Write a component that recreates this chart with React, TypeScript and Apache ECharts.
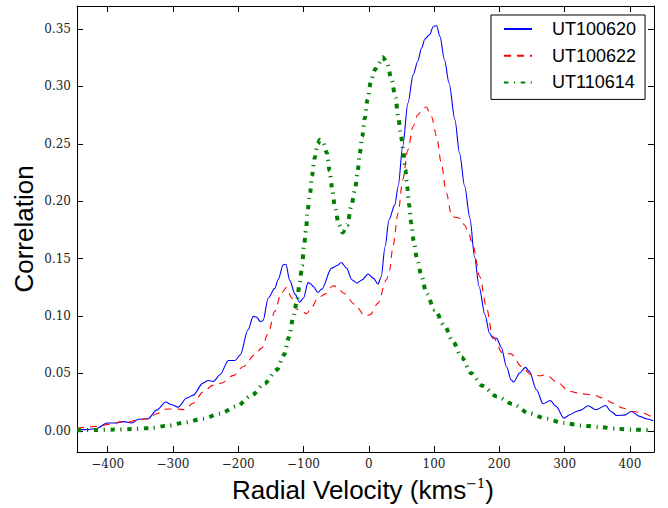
import React, { useEffect, useRef } from "react";
import * as echarts from "echarts";

// ---- Data ----
const seriesNames = ["UT100620", "UT100622", "UT110614"];

const blueV = [-447, -432, -417, -401, -386, -376, -363, -353, -338, -325, -311, -302, -292, -279, -269, -254, -246, -238, -228, -215, -205, -197, -185, -177, -172, -166, -162, -154, -144, -139, -131, -127, -121, -113, -106, -100, -93, -89, -85, -78, -72, -57, -49, -42, -34, -26, -18, -10, -1, 7, 14, 19, 25, 31, 40, 45, 52, 60, 68, 75, 81, 86, 93, 99, 104, 109, 116, 123, 132, 139, 147, 155, 162, 169, 178, 185, 190, 196, 203, 211, 218, 222, 231, 240, 246, 257, 267, 278, 287, 299, 308, 318, 325, 336, 348, 363, 371, 380, 392, 402, 415, 425, 436];
const blueC = [0.001, 0.001, 0.002, 0.0067, 0.0067, 0.008, 0.0067, 0.01, 0.0105, 0.018, 0.025, 0.0226, 0.0206, 0.0285, 0.031, 0.0415, 0.0438, 0.043, 0.0488, 0.0612, 0.0612, 0.066, 0.088, 0.0996, 0.099, 0.095, 0.096, 0.1156, 0.124, 0.1315, 0.1446, 0.145, 0.131, 0.119, 0.112, 0.1156, 0.129, 0.128, 0.1257, 0.1205, 0.1234, 0.1417, 0.1437, 0.1466, 0.1417, 0.1315, 0.1286, 0.1315, 0.1365, 0.133, 0.1278, 0.134, 0.1605, 0.1838, 0.197, 0.2128, 0.2477, 0.2854, 0.31, 0.3217, 0.3334, 0.3412, 0.345, 0.3522, 0.3528, 0.3435, 0.3232, 0.3029, 0.2709, 0.2419, 0.2128, 0.185, 0.1518, 0.1257, 0.101, 0.0851, 0.0807, 0.0805, 0.0728, 0.056, 0.0444, 0.0424, 0.0502, 0.0552, 0.0517, 0.0357, 0.0235, 0.0264, 0.0212, 0.011, 0.0139, 0.0168, 0.018, 0.0218, 0.0183, 0.022, 0.0168, 0.0133, 0.0136, 0.0168, 0.0125, 0.0105, 0.0087];

const redV = [-447, -417, -396, -378, -370, -353, -338, -325, -310, -294, -282, -269, -254, -239, -226, -208, -192, -175, -164, -154, -144, -134, -126, -118, -111, -103, -95, -88, -78, -67, -55, -49, -39, -21, -6, 2, 14, 27, 32, 37, 45, 52, 60, 68, 75, 83, 88, 96, 104, 111, 119, 127, 133, 140, 147, 153, 160, 170, 180, 190, 205, 218, 234, 249, 262, 272, 287, 308, 326, 343, 359, 374, 389, 405, 420, 436];
const redC = [0.0023, 0.0038, 0.0058, 0.008, 0.0075, 0.0096, 0.0105, 0.0148, 0.0189, 0.019, 0.0183, 0.024, 0.0337, 0.0395, 0.0415, 0.048, 0.056, 0.066, 0.072, 0.085, 0.104, 0.12, 0.1248, 0.1156, 0.106, 0.104, 0.1019, 0.107, 0.1156, 0.119, 0.1263, 0.1257, 0.12, 0.11, 0.1, 0.101, 0.111, 0.1315, 0.14, 0.1605, 0.1896, 0.2186, 0.2448, 0.265, 0.2753, 0.28, 0.282, 0.2738, 0.2564, 0.2332, 0.207, 0.187, 0.186, 0.185, 0.179, 0.172, 0.1605, 0.1344, 0.1083, 0.0821, 0.0677, 0.067, 0.056, 0.0488, 0.0479, 0.0488, 0.043, 0.0342, 0.0322, 0.0314, 0.0285, 0.0241, 0.0198, 0.0168, 0.0154, 0.011];

const greenV = [-447, -419, -391, -363, -335, -308, -282, -254, -228, -203, -180, -160, -141, -130, -122, -116, -110, -106, -102, -99.5, -96, -94, -90, -87, -83, -78, -75, -70, -64, -60, -56, -52, -46, -40, -33, -27, -21, -17, -14, -10, -6, -2, 3, 9, 14, 21, 28, 35, 41, 45, 49, 53, 56, 59, 62, 65, 69, 74, 81, 88, 101, 116, 129, 142, 157, 174, 196, 221, 245, 272, 298, 326, 353, 380, 407, 436];
const greenC = [0.0005, 0.0006, 0.001, 0.0015, 0.0023, 0.0044, 0.0072, 0.0105, 0.0148, 0.0212, 0.0305, 0.041, 0.053, 0.066, 0.0816, 0.098, 0.1126, 0.1286, 0.144, 0.16, 0.175, 0.191, 0.2064, 0.222, 0.2375, 0.25, 0.2535, 0.2506, 0.242, 0.2265, 0.211, 0.195, 0.18, 0.1727, 0.179, 0.195, 0.21, 0.2256, 0.241, 0.2564, 0.2724, 0.2883, 0.3034, 0.314, 0.3188, 0.3255, 0.321, 0.3055, 0.29, 0.274, 0.2584, 0.243, 0.2273, 0.212, 0.1963, 0.181, 0.165, 0.1496, 0.1344, 0.12, 0.1054, 0.0915, 0.0778, 0.0642, 0.0502, 0.0392, 0.0299, 0.0232, 0.0154, 0.0105, 0.0067, 0.0046, 0.0032, 0.0017, 0.0009, 0.0003];

const xMin = -447;
const xMax = 437;
const yMin = -0.0185;
const yMax = 0.37;
const xStep = 100;
const yStep = 0.05;

const pairs = (v: number[], c: number[]) => v.map((x, i) => [x, c[i]]);

export default function App() {
  const ref = useRef<HTMLDivElement>(null);

  useEffect(() => {
    if (!ref.current) return;
    const chart = echarts.init(ref.current, undefined, { renderer: "svg" });

    const tickFont = { fontFamily: "DejaVu Serif", fontSize: 12, color: "#222" };
    const isMult = (v: number, s: number) => Math.abs(v / s - Math.round(v / s)) < 1e-6;
    const xFmt = (v: number) => (isMult(v, xStep) ? (v < 0 ? "\u2212" + Math.abs(v) : String(v)) : "");
    const yFmt = (v: number) => (isMult(v, yStep) ? (Math.abs(v) < 1e-9 ? "0.00" : v.toFixed(2)) : "");

    const axisCommon = {
      type: "value" as const,
      splitLine: { show: false },
      axisLine: { show: true, onZero: false, lineStyle: { color: "#000", width: 1 } },
      axisTick: { show: true, inside: true, length: 6, lineStyle: { color: "#000", width: 1 } },
    };

    const xAx = (pos: "bottom" | "top", labels: boolean) => ({
      ...axisCommon,
      position: pos,
      min: xMin,
      max: xMax,
      splitNumber: 9,
      minInterval: xStep,
      maxInterval: xStep,
      axisLabel: { show: labels, formatter: xFmt, margin: 6, ...tickFont },
    });
    const yAx = (pos: "left" | "right", labels: boolean) => ({
      ...axisCommon,
      position: pos,
      min: yMin,
      max: yMax,
      splitNumber: 8,
      minInterval: yStep,
      maxInterval: yStep,
      axisLabel: { show: labels, formatter: yFmt, margin: 6, ...tickFont },
    });

    chart.setOption({
      animation: false,
      backgroundColor: "#fff",
      grid: { left: 77, right: 14, top: 6, bottom: 56, containLabel: false },
      xAxis: [xAx("bottom", true), xAx("top", false)],
      yAxis: [yAx("left", true), yAx("right", false)],
      legend: {
        data: seriesNames,
        orient: "vertical",
        left: 491,
        top: 15,
        padding: [4, 9, 7, 12],
        itemWidth: 28,
        itemHeight: 20,
        itemGap: 6.7,
        backgroundColor: "#fff",
        borderColor: "#000",
        borderWidth: 1,
        borderRadius: 0,
        itemStyle: { opacity: 0 },
        textStyle: {
          fontFamily: "Liberation Sans",
          fontSize: 18,
          color: "#000",
          lineHeight: 20,
          padding: [0, 0, 0, 15],
        },
      },
      graphic: [
        {
          type: "text",
          x: 24,
          y: 229,
          rotation: Math.PI / 2,
          style: {
            text: "Correlation",
            fontFamily: "Liberation Sans",
            fontSize: 26,
            fill: "#000",
            align: "center",
            verticalAlign: "middle",
          },
        },
        {
          type: "text",
          x: 363,
          y: 490,
          style: {
            text: "Radial Velocity (kms{sup|\u22121})",
            fontFamily: "Liberation Sans",
            fontSize: 26,
            fill: "#000",
            align: "center",
            verticalAlign: "middle",
            rich: {
              sup: {
                fontFamily: "DejaVu Serif",
                fontSize: 13,
                fill: "#000",
                verticalAlign: "top",
              },
            },
          },
        },
      ],
      series: [
        {
          name: seriesNames[0],
          type: "line",
          data: pairs(blueV, blueC),
          showSymbol: false,
          symbol: "none",
          smooth: 0.3,
          smoothMonotone: "x",
          lineStyle: { color: "#0000ff", width: 1.1 },
          itemStyle: { color: "#0000ff" },
          z: 3,
        },
        {
          name: seriesNames[1],
          type: "line",
          data: pairs(redV, redC),
          showSymbol: false,
          symbol: "none",
          smooth: 0.3,
          smoothMonotone: "x",
          lineStyle: { color: "#ff0000", width: 1.1, type: [7, 6] },
          itemStyle: { color: "#ff0000" },
          z: 4,
        },
        {
          name: seriesNames[2],
          type: "line",
          data: pairs(greenV, greenC),
          showSymbol: false,
          symbol: "none",
          smooth: 0.3,
          smoothMonotone: "x",
          lineStyle: { color: "#007f00", width: 4, type: [4.5, 5.5, 1.2, 5.5], cap: "butt" },
          itemStyle: { color: "#007f00" },
          z: 5,
        },
      ],
    });

    return () => chart.dispose();
  }, []);

  return (
    <div
      ref={ref}
      style={{ position: "fixed", left: 0, top: 0, width: 668, height: 508, background: "#fff" }}
    />
  );
}
